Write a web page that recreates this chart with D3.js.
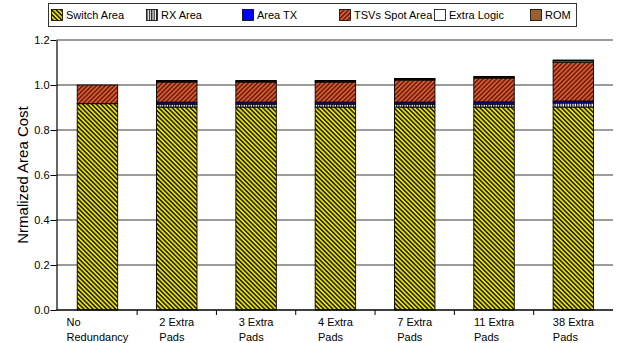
<!DOCTYPE html>
<html>
<head>
  <meta charset="utf-8">
  <title>Nrmalized Area Cost</title>
  <script src="https://d3js.org/d3.v7.min.js"></script>
  <style>
    body { margin: 0; background: #fff; }
    text { font-family: "Liberation Sans", Arial, Helvetica, sans-serif; }
    .grid line { stroke: #7a7a7a; stroke-width: 1.5; }
  </style>
</head>
<body>
<div id="chart"></div>
<script>
  const categories = [["No", "Redundancy"], ["2 Extra", "Pads"], ["3 Extra", "Pads"], ["4 Extra", "Pads"],
                      ["7 Extra", "Pads"], ["11 Extra", "Pads"], ["38 Extra", "Pads"]];
  const seriesNames = ["Switch Area", "RX Area", "Area TX", "TSVs Spot Area", "Extra Logic", "ROM"];
  const switchArea = [0.917, 0.902, 0.902, 0.902, 0.902, 0.902, 0.902];
  const rxArea     = [0.000, 0.013, 0.013, 0.013, 0.013, 0.013, 0.018];
  const txArea     = [0.000, 0.009, 0.009, 0.009, 0.009, 0.010, 0.009];
  const tsvArea    = [0.083, 0.089, 0.089, 0.089, 0.098, 0.106, 0.172];
  const extraLogic = [0.000, 0.004, 0.004, 0.004, 0.004, 0.004, 0.006];
  const romArea    = [0.000, 0.003, 0.003, 0.003, 0.003, 0.003, 0.004];
  const yTicks = [0, 0.2, 0.4, 0.6, 0.8, 1.0, 1.2];

  const width = 617, height = 343;
  const plotLeft = 56.5, bandLeft = 57.8, plotRight = 613;
  const yBottom = 310, yTop = 40;

  const svg = d3.select("#chart").append("svg")
    .attr("width", width)
    .attr("height", height);

  // hatch patterns
  const defs = svg.append("defs");
  function hatch(id, bg, fg, size, lw, angle) {
    const p = defs.append("pattern")
      .attr("id", id)
      .attr("patternUnits", "userSpaceOnUse")
      .attr("width", size).attr("height", size)
      .attr("patternTransform", `rotate(${angle})`);
    p.append("rect").attr("width", size).attr("height", size).attr("fill", bg);
    p.append("rect").attr("width", lw).attr("height", size).attr("fill", fg);
  }
  hatch("pSwitch", "#ece400", "#1a1a00", 3.2, 1.5, -45);
  hatch("pTsv", "#e2562e", "#4a1a0c", 3.2, 1.3, 45);
  hatch("pRx", "#ffffff", "#111", 2.4, 1.2, 0);

  const fills = ["url(#pSwitch)", "url(#pRx)", "#0000ff", "url(#pTsv)", "#ffffff", "#9a5f2c"];

  const rows = categories.map((c, i) => ({
    key: i,
    "Switch Area": switchArea[i],
    "RX Area": rxArea[i],
    "Area TX": txArea[i],
    "TSVs Spot Area": tsvArea[i],
    "Extra Logic": extraLogic[i],
    "ROM": romArea[i]
  }));
  const stacked = d3.stack().keys(seriesNames)(rows);

  const xOuter = d3.scaleBand()
    .domain(d3.range(categories.length))
    .range([bandLeft, plotRight]);
  const barW = xOuter.bandwidth() * 0.51;
  const barX = i => xOuter(i) + (xOuter.bandwidth() - barW) / 2;
  const y = d3.scaleLinear().domain([0, 1.2]).range([yBottom, yTop]);

  // gridlines
  svg.append("g").attr("class", "grid")
    .selectAll("line")
    .data(yTicks.filter(d => d > 0))
    .enter().append("line")
    .attr("x1", plotLeft).attr("x2", plotRight)
    .attr("y1", d => y(d)).attr("y2", d => y(d));

  // bars
  svg.append("g").selectAll("g")
    .data(stacked)
    .enter().append("g")
    .attr("fill", (d, i) => fills[i])
    .selectAll("rect")
    .data(d => d.filter(s => s[1] - s[0] > 0))
    .enter().append("rect")
    .attr("x", d => barX(d.data.key))
    .attr("width", barW)
    .attr("y", d => y(d[1]))
    .attr("height", d => y(d[0]) - y(d[1]))
    .attr("stroke", "#000")
    .attr("stroke-width", 0.9);

  // y axis
  const yAxis = svg.append("g")
    .attr("transform", `translate(${plotLeft},0)`)
    .call(d3.axisLeft(y).tickValues(yTicks).tickFormat(d3.format(".1f"))
      .tickSize(6).tickSizeOuter(0).tickPadding(1));
  yAxis.select(".domain").attr("stroke", "#000").attr("stroke-width", 1.2);
  yAxis.selectAll("line").attr("stroke", "#000");
  yAxis.selectAll("text").attr("font-size", 11).attr("fill", "#000");

  // x axis
  const xAxis = svg.append("g")
    .attr("transform", `translate(0,${y(0)})`);
  xAxis.append("line")
    .attr("x1", plotLeft).attr("x2", plotRight)
    .attr("stroke", "#000").attr("stroke-width", 1.5);
  xAxis.selectAll(".bnd")
    .data(d3.range(1, categories.length))
    .enter().append("line")
    .attr("class", "bnd")
    .attr("x1", d => xOuter(d)).attr("x2", d => xOuter(d))
    .attr("y1", 0).attr("y2", 5)
    .attr("stroke", "#000");

  // category labels: lines left-aligned, block centred on category
  categories.forEach((lines, i) => {
    const t = svg.append("text")
      .attr("font-size", 11)
      .attr("fill", "#000");
    lines.forEach((l, j) => {
      t.append("tspan").attr("x", 0).attr("y", 326 + j * 14.5).text(l);
    });
    const w = d3.max(t.selectAll("tspan").nodes(), n => n.getComputedTextLength());
    const x0 = xOuter(i) + xOuter.bandwidth() / 2 - w / 2;
    t.selectAll("tspan").attr("x", x0);
  });

  // axis title
  svg.append("text")
    .attr("transform", `translate(28,${(y(0) + y(1.2)) / 2}) rotate(-90)`)
    .attr("text-anchor", "middle")
    .attr("font-size", 15)
    .text("Nrmalized Area Cost");

  // legend
  const legend = svg.append("g");
  legend.append("rect")
    .attr("x", 48.5).attr("y", 3.5).attr("width", 528).attr("height", 23)
    .attr("fill", "#fff").attr("stroke", "#333").attr("stroke-width", 1);
  const legendX = [51, 146, 242, 339, 434, 530];
  seriesNames.forEach((name, i) => {
    legend.append("rect")
      .attr("x", legendX[i] + 0.5).attr("y", 9.5).attr("width", 11).attr("height", 11)
      .attr("fill", fills[i]).attr("stroke", "#000").attr("stroke-width", 0.8);
    legend.append("text")
      .attr("x", legendX[i] + 15).attr("y", 19)
      .attr("font-size", 11)
      .text(name);
  });
</script>
</body>
</html>
